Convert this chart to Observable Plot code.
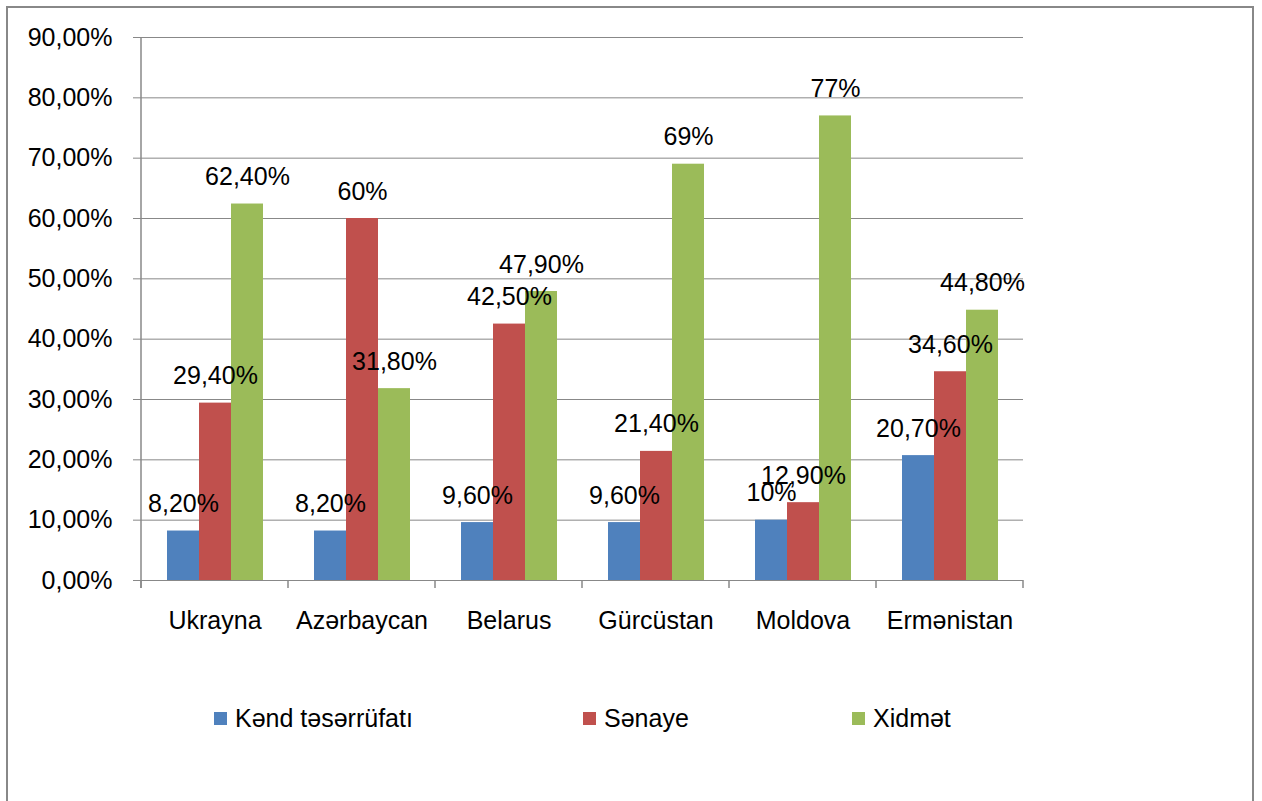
<!DOCTYPE html>
<html><head><meta charset="utf-8">
<script src="https://cdn.jsdelivr.net/npm/d3@7"></script>
<script src="https://cdn.jsdelivr.net/npm/@observablehq/plot@0.6"></script>
<style>
html,body{margin:0;padding:0;background:#fff;overflow:hidden;}
body{width:1262px;height:801px;position:relative;font-family:"Liberation Sans",Arial,sans-serif;}
#frame{position:absolute;left:6px;top:6px;width:1248px;height:840px;border:2px solid #888;box-sizing:border-box;}
#chart{position:absolute;left:0;top:0;}
.leg{position:absolute;top:702px;height:32px;display:flex;align-items:center;font-size:25px;color:#000;}
.sw{width:13px;height:13px;margin-right:8px;flex:none;}
.lt{white-space:nowrap;}
</style></head><body>
<div id="frame"></div><div id="chart"></div><div id="legend"></div>
<script>
const countries = ["Ukrayna", "Azərbaycan", "Belarus", "Gürcüstan", "Moldova", "Ermənistan"];
const series = ["Kənd təsərrüfatı", "Sənaye", "Xidmət"];
const kend = [8.2, 8.2, 9.6, 9.6, 10, 20.7];
const senaye = [29.4, 60, 42.5, 21.4, 12.9, 34.6];
const xidmet = [62.4, 31.8, 47.9, 69, 77, 44.8];
const yTicks = [0, 10, 20, 30, 40, 50, 60, 70, 80, 90];
const colors = ["#4F81BD", "#C0504D", "#9BBB59"];

const seriesValues = [kend, senaye, xidmet];
const data = countries.flatMap((c, i) => series.map((s, j) => ({country: c, series: s, value: seriesValues[j][i]})));
const pct = v => Number.isInteger(v) ? v + "%" : v.toFixed(2).replace(".", ",") + "%";
const tickFmt = v => v.toFixed(2).replace(".", ",") + "%";

const chart = Plot.plot({
  width: 1262,
  height: 660,
  marginLeft: 141,
  marginRight: 239,
  marginTop: 37,
  marginBottom: 80,
  style: {fontFamily: '"Liberation Sans", Arial, sans-serif', color: "#000", background: "transparent"},
  fx: {domain: countries, padding: 0, axis: null},
  x: {domain: series, paddingInner: 0, paddingOuter: 0.75, axis: null},
  y: {domain: [0, 90], axis: null},
  color: {domain: series, range: colors},
  marks: [
    Plot.gridY({ticks: yTicks, stroke: "#888", strokeOpacity: 1, strokeWidth: 1}),
    Plot.axisY({ticks: yTicks, tickSize: 8, tickPadding: 21, tickFormat: tickFmt, fontSize: 25, stroke: "#888", strokeOpacity: 1, label: null}),
    Plot.barY(data, {fx: "country", x: "series", y: "value", fill: "series"}),
    Plot.ruleY([0], {stroke: "#888", strokeWidth: 1.2}),
    Plot.axisFx({anchor: "bottom", tickSize: 0, tickPadding: 31, fontSize: 25, label: null}),
    Plot.text(data, {fx: "country", x: "series", y: "value", text: d => pct(d.value), lineAnchor: "bottom", dy: -19, fontSize: 25, fill: "#000"})
  ]
});
document.getElementById("chart").appendChild(chart);

// axis line and category boundary ticks, drawn from the plot's own scales
const fxS = chart.scale("fx"), yS = chart.scale("y");
const svg = d3.select(chart);
const y0 = yS.apply(0), yTop = yS.apply(90);
const edges = countries.map(c => fxS.apply(c));
edges.push(fxS.apply(countries[countries.length - 1]) + fxS.bandwidth);
const g = svg.append("g").attr("stroke", "#888").attr("stroke-width", 1.5);
g.append("line").attr("x1", edges[0]).attr("x2", edges[0]).attr("y1", yTop).attr("y2", y0 + 8);
edges.forEach(x => g.append("line").attr("x1", x).attr("x2", x).attr("y1", y0).attr("y2", y0 + 8));

// legend
const legendX = [214, 583, 852];
const leg = document.getElementById("legend");
series.forEach((s, j) => {
  const d = document.createElement("div");
  d.className = "leg";
  d.style.left = legendX[j] + "px";
  d.innerHTML = `<span class="sw" style="background:${colors[j]}"></span><span class="lt">${s}</span>`;
  leg.appendChild(d);
});
</script>
</body></html>
